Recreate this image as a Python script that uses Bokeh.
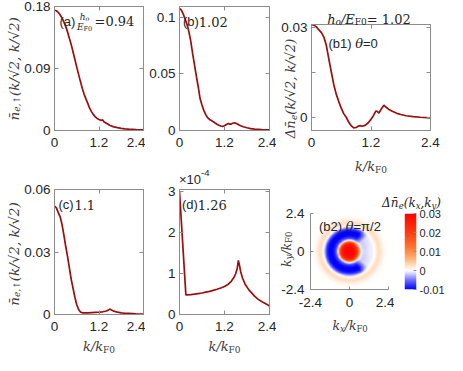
import math
import numpy as np
from bokeh.plotting import figure
from bokeh.models import Range1d, FixedTicker, LinearAxis, Label, LinearColorMapper, GridBox
from bokeh.layouts import row, column
from bokeh.embed import file_html
from bokeh.resources import INLINE

# ---------------- data ----------------
k_a = [0, 0.05, 0.1, 0.15, 0.2, 0.25, 0.3, 0.35, 0.4, 0.45, 0.5, 0.55, 0.6, 0.65, 0.7, 0.75, 0.8, 0.85, 0.9, 0.95,
       1.0, 1.05, 1.1, 1.15, 1.2, 1.25, 1.28, 1.3, 1.33, 1.4, 1.5, 1.6, 1.7, 1.8, 1.9, 2.0, 2.2, 2.4]
n_a = [0.1745, 0.1738, 0.1715, 0.168, 0.1635, 0.158, 0.1515, 0.1435, 0.134, 0.125, 0.114, 0.103, 0.092, 0.0815,
       0.071, 0.061, 0.0525, 0.0455, 0.039, 0.032, 0.027, 0.023, 0.0198, 0.0175, 0.016, 0.0148, 0.015, 0.0155,
       0.0128, 0.0105, 0.0073, 0.0053, 0.0041, 0.0031, 0.0024, 0.0019, 0.0013, 0.0009]

k_b = [0, 0.05, 0.1, 0.15, 0.2, 0.25, 0.3, 0.35, 0.4, 0.45, 0.5, 0.55, 0.6, 0.65, 0.7, 0.75, 0.8, 0.85, 0.9, 0.95,
       1.0, 1.05, 1.1, 1.15, 1.2, 1.25, 1.3, 1.33, 1.37, 1.42, 1.47, 1.52, 1.6, 1.7, 1.8, 1.9, 2.0, 2.2, 2.4]
n_b = [0.108, 0.1065, 0.103, 0.0985, 0.094, 0.0875, 0.079, 0.068, 0.058, 0.048, 0.0385, 0.028, 0.0225, 0.0175,
       0.014, 0.0113, 0.0098, 0.0088, 0.0078, 0.0066, 0.0055, 0.0046, 0.004, 0.0037, 0.0042, 0.0053, 0.0062,
       0.0057, 0.0056, 0.0064, 0.0069, 0.0062, 0.0046, 0.0033, 0.0024, 0.0017, 0.0012, 0.0007, 0.0005]

k_b1 = [0, 0.05, 0.1, 0.15, 0.2, 0.25, 0.3, 0.35, 0.4, 0.45, 0.5, 0.55, 0.6, 0.65, 0.7, 0.75, 0.8, 0.85, 0.9, 0.95,
        0.98, 1.02, 1.08, 1.14, 1.2, 1.25, 1.3, 1.33, 1.36, 1.41, 1.46, 1.5, 1.56, 1.64, 1.72, 1.8, 1.91, 2.05, 2.2, 2.4]
d_b1 = [0.031, 0.0308, 0.0302, 0.0292, 0.0283, 0.0268, 0.024, 0.0195, 0.0152, 0.011, 0.0078, 0.0054, 0.0032,
        0.0014, 0.0002, -0.0014, -0.0026, -0.0033, -0.0032, -0.0027, -0.0026, -0.0028, -0.0025, -0.0017, -0.0005,
        0.0008, 0.0023, 0.0021, 0.0016, 0.003, 0.0042, 0.0036, 0.0028, 0.0021, 0.0015, 0.0011, 0.0007, 0.0004,
        0.0002, 0.0]

k_c = [0, 0.05, 0.1, 0.15, 0.2, 0.25, 0.3, 0.35, 0.4, 0.45, 0.5, 0.55, 0.6, 0.65, 0.7, 0.75, 0.8, 0.9, 1.0, 1.1,
       1.2, 1.3, 1.4, 1.45, 1.5, 1.55, 1.6, 1.7, 1.8, 1.9, 2.0, 2.2, 2.4]
n_c = [0.052, 0.0512, 0.049, 0.047, 0.0435, 0.0385, 0.033, 0.028, 0.0225, 0.017, 0.0126, 0.0083, 0.0047, 0.0024,
       0.0012, 0.0008, 0.0008, 0.0008, 0.0009, 0.001, 0.0011, 0.0013, 0.0017, 0.0021, 0.0026, 0.002, 0.0016,
       0.0011, 0.0008, 0.0006, 0.0005, 0.0003, 0.0002]

# panel (d) values in units of 1e-4
k_d = [0, 0.17, 0.2, 0.3, 0.4, 0.5, 0.6, 0.7, 0.8, 0.9, 1.0, 1.1, 1.2, 1.3, 1.38, 1.45, 1.5, 1.54, 1.57, 1.6,
       1.63, 1.68, 1.75, 1.85, 2.0, 2.1, 2.2, 2.3, 2.4]
n_d = [3.0, 0.48, 0.48, 0.485, 0.495, 0.51, 0.525, 0.545, 0.565, 0.59, 0.615, 0.645, 0.685, 0.74, 0.81, 0.9, 1.0,
       1.13, 1.32, 1.2, 1.05, 0.89, 0.74, 0.6, 0.45, 0.37, 0.31, 0.26, 0.21]

# panel (b2): radial profiles of the map (left side / right side of the ring) and angular weight
b2_r = [0, 0.3, 0.5, 0.6, 0.68, 0.75, 0.85, 1.0, 1.15, 1.3, 1.42, 1.52, 1.6, 1.7, 1.8, 1.9, 2.0, 2.2, 2.5, 3.5]
b2_left = [0.03, 0.029, 0.024, 0.015, 0.004, -0.003, -0.007, -0.0095, -0.0105, -0.0095, -0.007, -0.003, 0.0,
           0.002, 0.003, 0.0025, 0.0015, 0.0003, 0.0, 0.0]
b2_right = [0.03, 0.029, 0.02, 0.01, 0.003, -0.0005, -0.0015, -0.0015, -0.001, -0.0008, -0.0004, 0.0, 0.0008,
            0.002, 0.003, 0.0025, 0.0015, 0.0003, 0.0, 0.0]
b2_phi = [0, 40, 50, 62, 180]
b2_w = [0.0, 0.05, 0.45, 1.0, 1.0]

x_ticks = [0, 1.2, 2.4]
x_labels = ["0", "1.2", "2.4"]
a_yticks = [0, 0.09, 0.18]
a_ylabels = ["0", "0.09", "0.18"]
b_yticks = [0, 0.05, 0.1]
b_ylabels = ["0", "0.05", "0.1"]
b1_yticks = [0, 0.015, 0.03]
b1_ylabels = ["0", "", "0.03"]
c_yticks = [0, 0.03, 0.06]
c_ylabels = ["0", "0.03", "0.06"]
d_yticks = [0, 1, 2, 3]
d_ylabels = ["0", "1", "2", "3"]
m_ticks = [-2.4, 0, 2.4]
m_labels = ["-2.4", "0", "2.4"]
cb_ticks = [-0.01, 0, 0.01, 0.02, 0.03]
cb_labels = ["-0.01", "0", "0.01", "0.02", "0.03"]

# ---------------- style ----------------
GRAY = "#8c8c8c"
TXT = "#262626"
MTXT = "#3c3c3c"
RED = "#990e0e"
SANS = "Liberation Sans"
SERIF = "DejaVu Serif"
TFS = "13.5px"
W, H = 447, 355

SANS_W = {'(': .333, ')': .333, ' ': .278, '=': .584, '/': .278, '-': .333, '.': .278, '×': .584, 'π': .58}
SERIF_W = {'(': .39, ')': .39, '/': .337, ',': .318, '.': .318, ' ': .318, '=': .838, '↑': .838, '\u0304': 0.0,
           'Δ': .75, 'θ': .6, 'k': .6, 'n': .644, 'e': .592, 'h': .644, 'o': .602, 'E': .73, 'F': .68,
           'x': .56, 'y': .56, '√': .636}


def tw(text, size, font):
    if font == SANS:
        return size * sum(SANS_W.get(c, .556) for c in text)
    return size * sum(SERIF_W.get(c, .636) for c in text)


def put(p, x, y, text, size, font, style, angle=0.0, color=TXT, units="screen"):
    p.add_layout(Label(x=x, y=y, x_units=units, y_units=units, text=text,
                       text_font=font, text_font_size=f"{size}px", text_font_style=style,
                       text_color=color, angle=angle, text_align="left", text_baseline="alphabetic"))


def hseq(p, x, y, pieces, center=False, color=TXT, down=False):
    """Horizontal run of text pieces; dy>0 raises a piece. down=True: overlay (y axis points down)."""
    total = sum(tw(t, s, f) for t, s, f, st, dy in pieces)
    cx = x - total / 2 if center else x
    for t, s, f, st, dy in pieces:
        yy = y - dy if down else y + dy
        put(p, cx, yy, t, s, f, st, color=color, units="data" if down else "screen")
        cx += tw(t, s, f)


def vseq(p, x, y, pieces, color=MTXT):
    """Rotated (reading upward) run in the overlay. x = baseline, y = centre."""
    total = sum(tw(t, s, f) for t, s, f, st, dy in pieces)
    cy = y + total / 2
    for t, s, f, st, dy in pieces:
        put(p, x - dy, cy, t, s, f, st, angle=math.pi / 2, color=color, units="data")
        cy -= tw(t, s, f)


def style_axis(ax, ticks, labels, standoff, hidden=False, tick_in=4, size=TFS):
    ax.ticker = FixedTicker(ticks=ticks)
    ax.major_label_overrides = {t: l for t, l in zip(ticks, labels)}
    ax.major_tick_in = tick_in
    ax.major_tick_out = 0
    ax.minor_tick_line_color = None
    ax.axis_line_color = GRAY
    ax.major_tick_line_color = GRAY
    ax.major_label_text_font = SANS
    ax.major_label_text_font_size = "0px" if hidden else size
    ax.major_label_text_color = TXT
    ax.major_label_standoff = standoff


def panel(w, h, bl, br, bt, bb, xr, yr, xt, xl, yt, yl, box=True, xstand=7, ystand=4):
    p = figure(width=w, height=h, output_backend="svg", toolbar_location=None,
               x_range=Range1d(*xr), y_range=Range1d(*yr),
               min_border_left=bl, min_border_right=br, min_border_top=bt, min_border_bottom=bb)
    p.grid.visible = False
    p.outline_line_color = GRAY if box else None
    style_axis(p.xaxis[0], xt, xl, xstand)
    style_axis(p.yaxis[0], yt, yl, ystand)
    if box:
        ra = LinearAxis()
        style_axis(ra, yt, [""] * len(yt), 0, hidden=True)
        p.add_layout(ra, "right")
        ta = LinearAxis()
        style_axis(ta, xt, [""] * len(xt), 0, hidden=True)
        p.add_layout(ta, "above")
    return p


M = 13      # math font size
MY = 13.5   # math font size of the long vertical labels
S = 9       # subscript size

# transparent overlay that carries the texts lying outside the plot frames (layout pixels, y down)
ov = figure(width=W, height=H, x_range=Range1d(0, W), y_range=Range1d(H, 0), output_backend="svg",
            toolbar_location=None, min_border=0, x_axis_location=None, y_axis_location=None,
            background_fill_alpha=0.0, border_fill_alpha=0.0, outline_line_color=None)
ov.grid.visible = False

# ---------------- (a) ----------------
fa = panel(145, 170, 54, 2, 6, 40, (0, 2.4), (0, 0.18), x_ticks, x_labels, a_yticks, a_ylabels)
fa.line(k_a, n_a, line_color=RED, line_width=1.7)
put(fa, 5, 109, "(a)", 13, SANS, "normal")
hseq(fa, 30, 113.5, [("h", 9, SERIF, "italic", 0), ("o", 6.5, SERIF, "italic", -2)], center=True)
hseq(fa, 30, 104, [("E", 9, SERIF, "italic", 0), ("F0", 6.5, SERIF, "normal", -2)], center=True)
put(fa, 40, 109, "=0.94", 13, SERIF, "normal")
vseq(ov, 13.5, 68.4, [("n\u0304", MY, SERIF, "italic", 0), ("e,↑", S, SERIF, "italic", -3),
                      ("(k/√2, k/√2)", MY, SERIF, "italic", 0)])

# ---------------- (b) ----------------
fb = panel(131, 160, 33, 7, 6, 30, (0, 2.4), (0, 0.1097), x_ticks, x_labels, b_yticks, b_ylabels)
fb.line(k_b, n_b, line_color=RED, line_width=1.7)
hseq(fb, 3.4, 109, [("(b)", 13, SANS, "normal", 0), ("1.02", 13, SERIF, "normal", 0)])

# ---------------- (b1) ----------------
fb1 = panel(171, 170, 35, 17, 24, 40, (0, 2.4), (-0.0042, 0.031), x_ticks, x_labels, b1_yticks, b1_ylabels)
fb1.line(k_b1, d_b1, line_color=RED, line_width=1.7)
hseq(fb1, 17, 87, [("(b1) ", 13, SANS, "normal", 0), ("θ", 13, SERIF, "italic", 0),
                   ("=0", 13, SANS, "normal", 0)])
hseq(ov, 370.5, 18.5, [("h", M, SERIF, "italic", 0), ("o", S, SERIF, "italic", -3),
                       ("/E", M, SERIF, "italic", 0), ("F0", S, SERIF, "normal", -3),
                       (" = 1.02", M, SERIF, "normal", 0)], center=True, down=True)
vseq(ov, 289.6, 88, [("Δn\u0304", M, SERIF, "italic", 0), ("e", S, SERIF, "italic", -3),
                     ("(k/√2, k/√2)", M, SERIF, "italic", 0)])
hseq(ov, 370.5, 166, [("k/k", M, SERIF, "italic", 0), ("F0", S, SERIF, "normal", -3)],
     center=True, color=MTXT, down=True)

# ---------------- (c) ----------------
fc = panel(145, 185, 54, 2, 19, 41, (0, 2.4), (0, 0.06), x_ticks, x_labels, c_yticks, c_ylabels)
fc.line(k_c, n_c, line_color=RED, line_width=1.7)
hseq(fc, 4, 110, [("(c)", 13, SANS, "normal", 0), ("1.1", 13, SERIF, "normal", 0)])
vseq(ov, 13.5, 253.6, [("n\u0304", MY, SERIF, "italic", 0), ("e,↑", S, SERIF, "italic", -3),
                       ("(k/√2, k/√2)", MY, SERIF, "italic", 0)])
hseq(ov, 98.5, 346.4, [("k/k", M, SERIF, "italic", 0), ("F0", S, SERIF, "normal", -3)],
     center=True, color=MTXT, down=True)

# ---------------- (d) ----------------
fd = panel(131, 195, 34, 7, 29, 41, (0, 2.4), (0, 3.05), x_ticks, x_labels, d_yticks, d_ylabels)
fd.line(k_d, n_d, line_color=RED, line_width=1.7)
hseq(fd, 2.4, 110, [("(d)", 13, SANS, "normal", 0), ("1.26", 13, SERIF, "normal", 0)])
hseq(ov, 178.5, 179, [("×10", 13, SANS, "normal", 0), ("-4", 9.5, SANS, "normal", 6.5)], down=True)
hseq(ov, 224, 346.4, [("k/k", M, SERIF, "italic", 0), ("F0", S, SERIF, "normal", -3)],
     center=True, color=MTXT, down=True)

# ---------------- (b2) map ----------------
stops_v = [-0.01, -0.006, -0.003, -0.001, 0.0, 0.002, 0.006, 0.012, 0.02, 0.03]
stops_c = [(0, 0, 255), (90, 90, 255), (170, 170, 255), (232, 232, 255), (255, 255, 255), (255, 232, 212),
           (255, 180, 120), (255, 120, 50), (255, 60, 15), (255, 0, 0)]
vv = np.linspace(-0.01, 0.03, 256)
palette = []
for v in vv:
    rgb = [int(round(np.interp(v, stops_v, [c[i] for c in stops_c]))) for i in range(3)]
    palette.append("#%02x%02x%02x" % tuple(rgb))
cmap = LinearColorMapper(palette=palette, low=-0.01, high=0.03)

g = np.linspace(-2.4, 2.4, 181)
KX, KY = np.meshgrid(g, g)
R = np.hypot(KX, KY)
PHI = np.degrees(np.abs(np.arctan2(KY, KX)))
Wt = np.interp(PHI, b2_phi, b2_w)
Z = np.interp(R, b2_r, b2_right) * (1 - Wt) + np.interp(R, b2_r, b2_left) * Wt

fb2 = panel(118, 185, 34, 6, 43, 66, (-2.4, 2.4), (-2.4, 2.4), m_ticks, m_labels, m_ticks, m_labels,
            box=False, xstand=8, ystand=6)
fb2.xaxis[0].major_tick_in = 3
fb2.yaxis[0].major_tick_in = 3
fb2.image(image=[Z], x=-2.4, y=-2.4, dw=4.8, dh=4.8, color_mapper=cmap)
hseq(fb2, 8.5, 63.2, [("(b2) ", 13, SANS, "normal", 0), ("θ", 13, SERIF, "italic", 0),
                      ("=π/2", 13, SANS, "normal", 0)])
hseq(ov, 349.5, 325.4, [("k", 12.5, SERIF, "italic", 0), ("x", 8.5, SERIF, "italic", -3),
                        ("/k", 12.5, SERIF, "italic", 0), ("F0", 8.5, SERIF, "normal", -3)],
     center=True, color=MTXT, down=True)
vseq(ov, 285.7, 248.8, [("k", 12.5, SERIF, "italic", 0), ("y", 8.5, SERIF, "italic", -3),
                        ("/k", 12.5, SERIF, "italic", 0), ("F0", 8.5, SERIF, "normal", -3)])
hseq(ov, 411, 202, [("Δn\u0304", 12, SERIF, "italic", 0), ("e", 8.5, SERIF, "italic", -3),
                    ("(k", 12, SERIF, "italic", 0), ("x", 8.5, SERIF, "italic", -3),
                    (",k", 12, SERIF, "italic", 0), ("y", 8.5, SERIF, "italic", -3),
                    (")", 12, SERIF, "italic", 0)], center=True, down=True)

# colour bar: a slim figure showing the colour scale with its own axis
fcb = figure(width=53, height=185, x_range=Range1d(0, 1), y_range=Range1d(-0.01, 0.03),
             output_backend="svg", toolbar_location=None, x_axis_location=None, y_axis_location="right",
             min_border_left=10, min_border_right=30, min_border_top=42, min_border_bottom=66)
fcb.grid.visible = False
fcb.outline_line_color = None
fcb.image(image=[vv.reshape(-1, 1)], x=0, y=-0.01, dw=1, dh=0.04, color_mapper=cmap)
style_axis(fcb.yaxis[0], cb_ticks, cb_labels, 3, tick_in=3, size="11px")
fcb.yaxis[0].axis_line_color = None

main = row(column(fa, fc), column(fb, fd), column(fb1, row(fb2, fcb)))
layout = GridBox(children=[(main, 0, 0), (ov, 0, 0)], width=W, height=H,
                 rows=[f"{H}px"], cols=[f"{W}px"])
open("out.html", "w").write(file_html(layout, INLINE))
